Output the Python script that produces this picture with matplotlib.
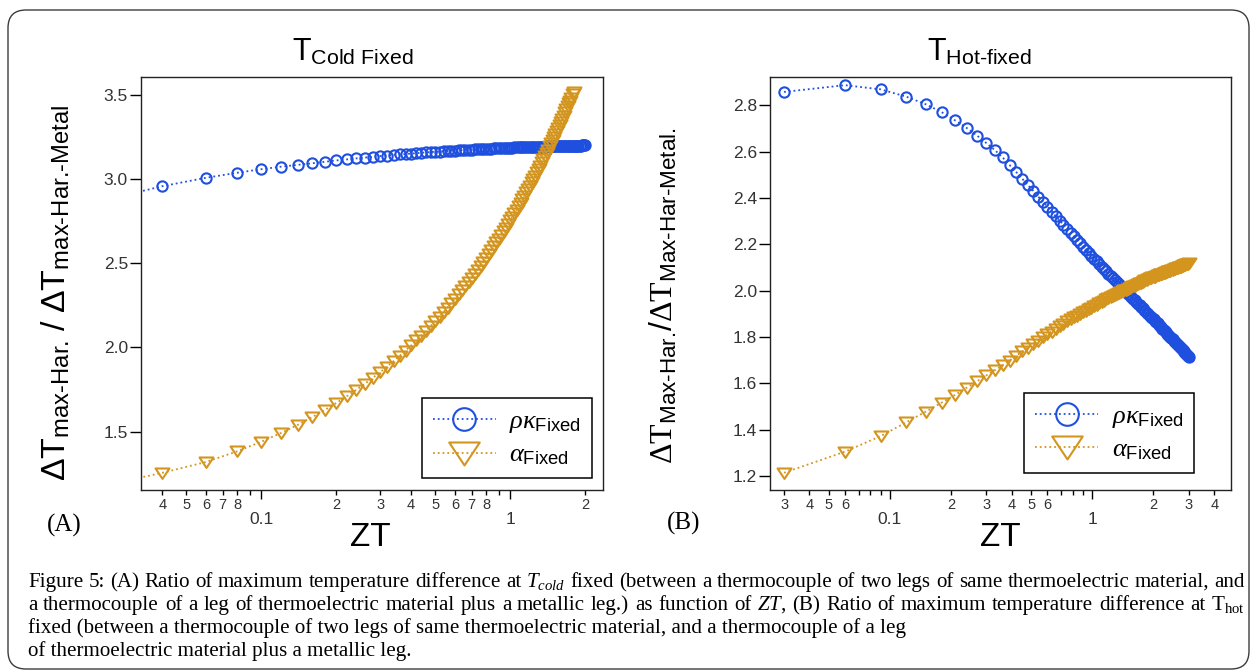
import math
import matplotlib
matplotlib.use('Agg')
import matplotlib.pyplot as plt
from matplotlib.ticker import FixedLocator, FuncFormatter
from matplotlib.patches import FancyBboxPatch
from matplotlib.transforms import IdentityTransform
from matplotlib.path import Path

# ---------------- data ----------------
# Panel A: T_cold fixed, ZT step 0.02
ZT_A = [0.02, 0.04, 0.06, 0.08, 0.10, 0.12, 0.14, 0.16, 0.18, 0.20,
        0.22, 0.24, 0.26, 0.28, 0.30, 0.32, 0.34, 0.36, 0.38, 0.40,
        0.42, 0.44, 0.46, 0.48, 0.50, 0.52, 0.54, 0.56, 0.58, 0.60,
        0.62, 0.64, 0.66, 0.68, 0.70, 0.72, 0.74, 0.76, 0.78, 0.80,
        0.82, 0.84, 0.86, 0.88, 0.90, 0.92, 0.94, 0.96, 0.98, 1.00,
        1.02, 1.04, 1.06, 1.08, 1.10, 1.12, 1.14, 1.16, 1.18, 1.20,
        1.22, 1.24, 1.26, 1.28, 1.30, 1.32, 1.34, 1.36, 1.38, 1.40,
        1.42, 1.44, 1.46, 1.48, 1.50, 1.52, 1.54, 1.56, 1.58, 1.60,
        1.62, 1.64, 1.66, 1.68, 1.70, 1.72, 1.74, 1.76, 1.78, 1.80,
        1.82, 1.84, 1.86, 1.88, 1.90, 1.92, 1.94, 1.96, 1.98, 2.00]
rhokappa_A = [2.850, 2.958, 3.008, 3.038, 3.059, 3.074, 3.085, 3.094, 3.103, 3.111,
              3.117, 3.123, 3.128, 3.132, 3.137, 3.140, 3.144, 3.147, 3.149, 3.152,
              3.154, 3.157, 3.159, 3.161, 3.163, 3.164, 3.166, 3.167, 3.169, 3.170,
              3.171, 3.173, 3.174, 3.175, 3.176, 3.177, 3.178, 3.179, 3.180, 3.181,
              3.182, 3.182, 3.183, 3.183, 3.184, 3.185, 3.185, 3.186, 3.186, 3.187,
              3.187, 3.188, 3.188, 3.189, 3.189, 3.189, 3.190, 3.190, 3.190, 3.191,
              3.191, 3.191, 3.192, 3.192, 3.192, 3.193, 3.193, 3.193, 3.193, 3.194,
              3.194, 3.194, 3.194, 3.195, 3.195, 3.195, 3.195, 3.196, 3.196, 3.196,
              3.196, 3.197, 3.197, 3.197, 3.197, 3.198, 3.198, 3.198, 3.198, 3.198,
              3.199, 3.199, 3.199, 3.199, 3.199, 3.199, 3.200, 3.200, 3.200, 3.200]
alpha_A = [1.160, 1.255, 1.320, 1.383, 1.440, 1.492, 1.540, 1.586, 1.629, 1.670,
           1.709, 1.747, 1.783, 1.819, 1.853, 1.886, 1.919, 1.951, 1.982, 2.012,
           2.042, 2.071, 2.100, 2.129, 2.156, 2.184, 2.211, 2.237, 2.264, 2.290,
           2.315, 2.341, 2.365, 2.390, 2.415, 2.439, 2.463, 2.486, 2.510, 2.533,
           2.556, 2.579, 2.602, 2.624, 2.646, 2.668, 2.690, 2.712, 2.734, 2.755,
           2.776, 2.797, 2.818, 2.839, 2.860, 2.880, 2.901, 2.921, 2.941, 2.961,
           2.981, 3.001, 3.021, 3.041, 3.060, 3.080, 3.099, 3.118, 3.137, 3.156,
           3.175, 3.194, 3.213, 3.232, 3.250, 3.269, 3.287, 3.306, 3.324, 3.342,
           3.360, 3.378, 3.396, 3.414, 3.432, 3.450, 3.467, 3.485, 3.503, 3.520]

# Panel B: T_hot fixed, ZT step 0.03
ZT_B = [0.03, 0.06, 0.09, 0.12, 0.15, 0.18, 0.21, 0.24, 0.27, 0.30,
        0.33, 0.36, 0.39, 0.42, 0.45, 0.48, 0.51, 0.54, 0.57, 0.60,
        0.63, 0.66, 0.69, 0.72, 0.75, 0.78, 0.81, 0.84, 0.87, 0.90,
        0.93, 0.96, 0.99, 1.02, 1.05, 1.08, 1.11, 1.14, 1.17, 1.20,
        1.23, 1.26, 1.29, 1.32, 1.35, 1.38, 1.41, 1.44, 1.47, 1.50,
        1.53, 1.56, 1.59, 1.62, 1.65, 1.68, 1.71, 1.74, 1.77, 1.80,
        1.83, 1.86, 1.89, 1.92, 1.95, 1.98, 2.01, 2.04, 2.07, 2.10,
        2.13, 2.16, 2.19, 2.22, 2.25, 2.28, 2.31, 2.34, 2.37, 2.40,
        2.43, 2.46, 2.49, 2.52, 2.55, 2.58, 2.61, 2.64, 2.67, 2.70,
        2.73, 2.76, 2.79, 2.82, 2.85, 2.88, 2.91, 2.94, 2.97, 3.00]
rhokappa_B = [2.857, 2.886, 2.868, 2.837, 2.804, 2.770, 2.734, 2.701, 2.668, 2.636,
              2.606, 2.575, 2.542, 2.512, 2.483, 2.456, 2.431, 2.406, 2.383, 2.362,
              2.341, 2.321, 2.302, 2.284, 2.267, 2.250, 2.234, 2.219, 2.204, 2.190,
              2.176, 2.163, 2.150, 2.138, 2.126, 2.115, 2.104, 2.093, 2.083, 2.073,
              2.063, 2.054, 2.045, 2.036, 2.027, 2.019, 2.011, 2.003, 1.995, 1.987,
              1.980, 1.972, 1.965, 1.958, 1.951, 1.944, 1.937, 1.931, 1.924, 1.918,
              1.912, 1.905, 1.899, 1.893, 1.887, 1.881, 1.876, 1.870, 1.864, 1.859,
              1.853, 1.847, 1.842, 1.836, 1.831, 1.826, 1.820, 1.815, 1.810, 1.805,
              1.800, 1.795, 1.790, 1.785, 1.780, 1.775, 1.771, 1.766, 1.761, 1.757,
              1.752, 1.748, 1.744, 1.739, 1.735, 1.731, 1.726, 1.722, 1.718, 1.714]
alpha_B = [1.215, 1.306, 1.373, 1.432, 1.478, 1.517, 1.551, 1.582, 1.610, 1.635,
           1.657, 1.678, 1.699, 1.719, 1.738, 1.755, 1.771, 1.785, 1.799, 1.812,
           1.824, 1.836, 1.847, 1.858, 1.868, 1.877, 1.885, 1.893, 1.900, 1.907,
           1.914, 1.921, 1.927, 1.934, 1.940, 1.946, 1.952, 1.957, 1.963, 1.968,
           1.972, 1.977, 1.981, 1.985, 1.989, 1.993, 1.997, 2.001, 2.005, 2.008,
           2.012, 2.015, 2.019, 2.022, 2.026, 2.029, 2.032, 2.035, 2.038, 2.041,
           2.044, 2.047, 2.050, 2.053, 2.055, 2.057, 2.059, 2.061, 2.064, 2.066,
           2.068, 2.070, 2.072, 2.074, 2.076, 2.078, 2.080, 2.082, 2.083, 2.085,
           2.087, 2.089, 2.091, 2.092, 2.094, 2.096, 2.098, 2.099, 2.101, 2.103,
           2.104, 2.106, 2.107, 2.109, 2.110, 2.112, 2.114, 2.115, 2.117, 2.118]

# axis ticks / labels
YTICKS_A = [1.5, 2.0, 2.5, 3.0, 3.5]
YTICKS_B = [1.2, 1.4, 1.6, 1.8, 2.0, 2.2, 2.4, 2.6, 2.8]
XMAJOR = [0.1, 1]
XMINOR_A = [0.04, 0.05, 0.06, 0.07, 0.08, 0.09, 0.2, 0.3, 0.4, 0.5, 0.6, 0.7, 0.8, 0.9, 2]
XMINOR_LABELED_A = [0.04, 0.05, 0.06, 0.07, 0.08, 0.2, 0.3, 0.4, 0.5, 0.6, 0.7, 0.8, 2]
XMINOR_B = [0.03, 0.04, 0.05, 0.06, 0.07, 0.08, 0.09, 0.2, 0.3, 0.4, 0.5, 0.6, 0.7, 0.8, 0.9, 2, 3, 4]
XMINOR_LABELED_B = [0.03, 0.04, 0.05, 0.06, 0.2, 0.3, 0.4, 0.5, 0.6, 2, 3, 4]

LABEL_RK = r'$\rho\kappa_{\mathrm{Fixed}}$'
LABEL_AL = r'$\alpha_{\mathrm{Fixed}}$'
TITLE_A = r'$\mathrm{T}_{\text{Cold Fixed}}$'
TITLE_B = r'$\mathrm{T}_{\text{Hot-fixed}}$'
YLABEL_A = r'$\Delta\mathrm{T}_{\text{max-Har.}}\ /\ \Delta\mathrm{T}_{\text{max-Har.-Metal}}$'
YLABEL_B = r'$\mathtt{\Delta T}_{\text{Max-Har.}}/\mathtt{\Delta T}_{\text{Max-Har-Metal.}}$'
CAPTION = [
    r'Figure 5: (A) Ratio of maximum temperature difference at $T_{cold}$ fixed (between a thermocouple of two legs of same thermoelectric material, and',
    r'a thermocouple of a leg of thermoelectric material plus a metallic leg.) as function of $ZT$, (B) Ratio of maximum temperature difference at $\mathtt{T}_{\mathtt{hot}}$',
    r'fixed (between a thermocouple of two legs of same thermoelectric material, and a thermocouple of a leg',
    r'of thermoelectric material plus a metallic leg.',
]

# ---------------- styling ----------------
W, H = 1255, 671
plt.rcParams.update({
    'font.family': ['Liberation Sans', 'DejaVu Sans'],
    'mathtext.fontset': 'custom',
    'mathtext.rm': 'Liberation Sans',
    'mathtext.sf': 'Liberation Sans',
    'mathtext.it': 'Liberation Serif:italic',
    'mathtext.tt': 'Liberation Serif',
    'mathtext.bf': 'Liberation Sans:bold',
})
BLUE = '#1f4fdf'
ORANGE = '#d4951f'
TICKC = '#333333'
TRI = Path([(-1, 0.72), (1, 0.72), (0, -0.78), (-1, 0.72)],
           [Path.MOVETO, Path.LINETO, Path.LINETO, Path.CLOSEPOLY])

fig = plt.figure(figsize=(W / 100, H / 100), dpi=100)
fig.patch.set_facecolor('white')


def fx(x):
    return x / W


def fy(y):
    return 1 - y / H


def axes_px(l, t, r, b):
    return fig.add_axes([l / W, 1 - b / H, (r - l) / W, (b - t) / H])


def digit_formatter(labeled):
    def f(v, pos):
        for l in labeled:
            if abs(v - l) < 1e-6 * l:
                return str(int(round(v / 10 ** math.floor(math.log10(v) + 1e-9))))
        return ''
    return FuncFormatter(f)


def setup(ax, xlim, ylim, yticks, minor, labeled):
    ax.set_xscale('log')
    ax.set_xlim(*xlim)
    ax.set_ylim(*ylim)
    ax.xaxis.set_major_locator(FixedLocator(XMAJOR))
    ax.xaxis.set_major_formatter(FuncFormatter(lambda v, p: f'{v:g}'))
    ax.xaxis.set_minor_locator(FixedLocator(minor))
    ax.xaxis.set_minor_formatter(digit_formatter(labeled))
    ax.yaxis.set_major_locator(FixedLocator(yticks))
    ax.yaxis.set_major_formatter(FuncFormatter(lambda v, p: f'{v:.1f}'))
    ax.tick_params(axis='x', which='major', direction='out', length=6.7, width=1.0,
                   pad=8.5, labelsize=12.5, labelcolor=TICKC, color='black')
    ax.tick_params(axis='x', which='minor', direction='out', length=3.8, width=1.0,
                   pad=2.0, labelsize=10.5, labelcolor=TICKC, color='black')
    ax.tick_params(axis='y', which='major', direction='out', length=7.7, width=1.0,
                   pad=2.0, labelsize=12.5, labelcolor=TICKC, color='black')
    ax.tick_params(axis='y', which='minor', left=False)
    for s in ax.spines.values():
        s.set_linewidth(1.0)
        s.set_color('#222222')


def draw(ax, xr, yr, xa, ya, legend_anchor):
    l1, = ax.plot(xr, yr, ls=':', lw=1.3, color=BLUE, marker='o', ms=7.4,
                  mfc='none', mec=BLUE, mew=1.5, clip_on=True)
    l2, = ax.plot(xa, ya, ls=':', lw=1.3, color=ORANGE, marker=TRI, ms=10,
                  mfc='none', mec=ORANGE, mew=1.5, clip_on=True)
    leg = ax.legend([l1, l2], [LABEL_RK, LABEL_AL], loc='lower right',
                    bbox_to_anchor=legend_anchor, frameon=True, fancybox=False,
                    edgecolor='black', framealpha=1, borderaxespad=0,
                    fontsize=19, markerscale=2.2, handlelength=2.4,
                    handletextpad=0.5, labelspacing=0.3, borderpad=0.4)
    leg.get_frame().set_linewidth(1.1)


axA = axes_px(141.4, 77.3, 602.6, 490.4)
axB = axes_px(770.3, 77.3, 1231.0, 490.4)

setup(axA, (0.0330, 2.35), (1.151, 3.605), YTICKS_A, XMINOR_A, XMINOR_LABELED_A)
setup(axB, (0.02566, 4.84), (1.139, 2.920), YTICKS_B, XMINOR_B, XMINOR_LABELED_B)

draw(axA, ZT_A, rhokappa_A, ZT_A[:len(alpha_A)], alpha_A, (0.9766, 0.030))
draw(axB, ZT_B, rhokappa_B, ZT_B, alpha_B, (0.9197, 0.0424))

# titles
fig.text(fx(352.7), fy(52), TITLE_A, ha='center', va='center', fontsize=22)
fig.text(fx(979.0), fy(52), TITLE_B, ha='center', va='center', fontsize=22)
# y labels
fig.text(fx(56.0), fy(293.0), YLABEL_A, rotation=90, ha='center', va='center', fontsize=24.5)
fig.text(fx(664.0), fy(296.0), YLABEL_B, rotation=90, ha='center', va='center', fontsize=23)
# x labels
fig.text(fx(370.6), fy(537), 'ZT', ha='center', va='center', fontsize=24)
fig.text(fx(1000.6), fy(537), 'ZT', ha='center', va='center', fontsize=24)
# panel labels
fig.text(fx(64), fy(525), '(A)', ha='center', va='center', fontsize=18, family='Liberation Serif')
fig.text(fx(683.8), fy(523.5), '(B)', ha='center', va='center', fontsize=18, family='Liberation Serif')

# outer rounded frame
frame = FancyBboxPatch((8, 2), 1241, 659, boxstyle='round,pad=0,rounding_size=18',
                       transform=IdentityTransform(), fill=False, ec='#3c3c3c', lw=1.0)
fig.add_artist(frame)

# caption: font size chosen so that line 1 fills the text width with normal spaces;
# the first two lines are justified, the last two are ragged
renderer = fig.canvas.get_renderer()
cap_x0, cap_x1 = 28, 1245


def make_words(line, fs):
    words = line.split(' ')
    texts = [fig.text(0, 0, w, fontsize=fs, family='Liberation Serif',
                      transform=IdentityTransform(), va='baseline', ha='left', color='black')
             for w in words]
    widths = [t.get_window_extent(renderer).width for t in texts]
    return texts, widths


base_fs = 12.0
probe = fig.text(0, 0, CAPTION[0], fontsize=base_fs, family='Liberation Serif',
                 transform=IdentityTransform())
w1 = probe.get_window_extent(renderer).width
probe.remove()
CAP_FS = base_fs * (cap_x1 - cap_x0) / w1 * 0.995

baselines = [587, 610, 633, 656]
for i, line in enumerate(CAPTION):
    yb = H - baselines[i]
    if i < 2:
        texts, widths = make_words(line, CAP_FS)
        gap = (cap_x1 - cap_x0 - sum(widths)) / (len(widths) - 1)
        x = cap_x0
        for t, w in zip(texts, widths):
            t.set_position((x, yb))
            x += w + gap
    else:
        fig.text(cap_x0, yb, line, fontsize=CAP_FS, family='Liberation Serif',
                 transform=IdentityTransform(), va='baseline', ha='left', color='black')

fig.savefig('out.png', dpi=100, facecolor='white')
